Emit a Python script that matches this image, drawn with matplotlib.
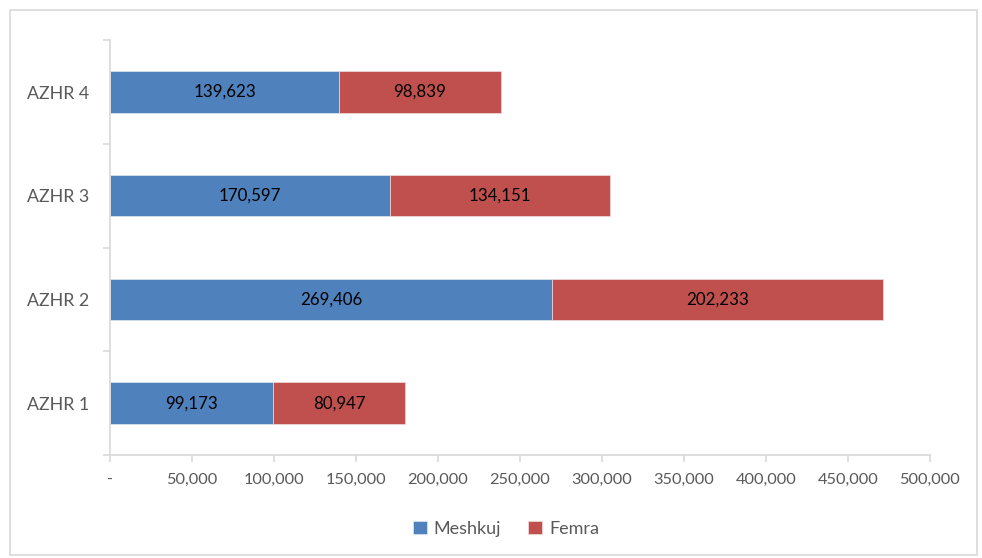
import matplotlib
matplotlib.use('Agg')
import matplotlib.pyplot as plt
from matplotlib.patches import Rectangle
from matplotlib.ticker import FuncFormatter

# data
categories = ['AZHR 1', 'AZHR 2', 'AZHR 3', 'AZHR 4']
meshkuj = [99173, 269406, 170597, 139623]
femra = [80947, 202233, 134151, 98839]

blue = '#4F81BD'
red = '#C0504D'
grey_text = '#595959'
axis_grey = '#D9D9D9'

plt.rcParams['font.family'] = ['Lato', 'DejaVu Sans']

fig = plt.figure(figsize=(9.82, 5.58), dpi=100)
ax = fig.add_axes([0.112, 0.1846, 0.835, 0.7434])

# outer border of the chart area
fig.patches.append(Rectangle((10 / 982, 3 / 558), 967 / 982, 545 / 558,
                             transform=fig.transFigure, fill=False,
                             edgecolor=axis_grey, linewidth=1.2))

y = list(range(len(categories)))
b1 = ax.barh(y, meshkuj, height=0.4, color=blue, edgecolor='#DDE6F0',
             linewidth=0.5, label='Meshkuj')
b2 = ax.barh(y, femra, left=meshkuj, height=0.4, color=red, edgecolor='#F0DDDD',
             linewidth=0.5, label='Femra')

for bars in (b1, b2):
    for rect in bars:
        w = rect.get_width()
        ax.text(rect.get_x() + w / 2, rect.get_y() + rect.get_height() / 2,
                f'{w:,.0f}', ha='center', va='center', fontsize=12.2, color='black')

ax.set_xlim(0, 500000)
ax.set_ylim(-0.5, 3.5)
ax.set_xticks(range(0, 500001, 50000))
ax.xaxis.set_major_formatter(FuncFormatter(lambda v, p: '-' if v == 0 else f'{v:,.0f}'))

# y tick marks between categories, labels centered on bars
ax.set_yticks(y)
ax.set_yticklabels(categories)
ax.set_yticks([-0.5, 0.5, 1.5, 2.5, 3.5], minor=True)
ax.tick_params(axis='y', which='major', length=0, pad=15, labelsize=12.8, labelcolor=grey_text)
ax.tick_params(axis='y', which='minor', length=5, color=axis_grey, width=1.2)
ax.tick_params(axis='x', length=5, color=axis_grey, width=1.2, labelsize=11.8,
               labelcolor=grey_text, pad=8)

for s in ['top', 'right']:
    ax.spines[s].set_visible(False)
for s in ['left', 'bottom']:
    ax.spines[s].set_color(axis_grey)
    ax.spines[s].set_linewidth(1.2)

ax.legend(loc='upper center', bbox_to_anchor=(0.483, -0.12), ncol=2, frameon=False,
          fontsize=13, labelcolor=grey_text, handlelength=0.75, handleheight=0.75,
          handletextpad=0.4, columnspacing=1.5)

plt.savefig('out.png', dpi=100)
